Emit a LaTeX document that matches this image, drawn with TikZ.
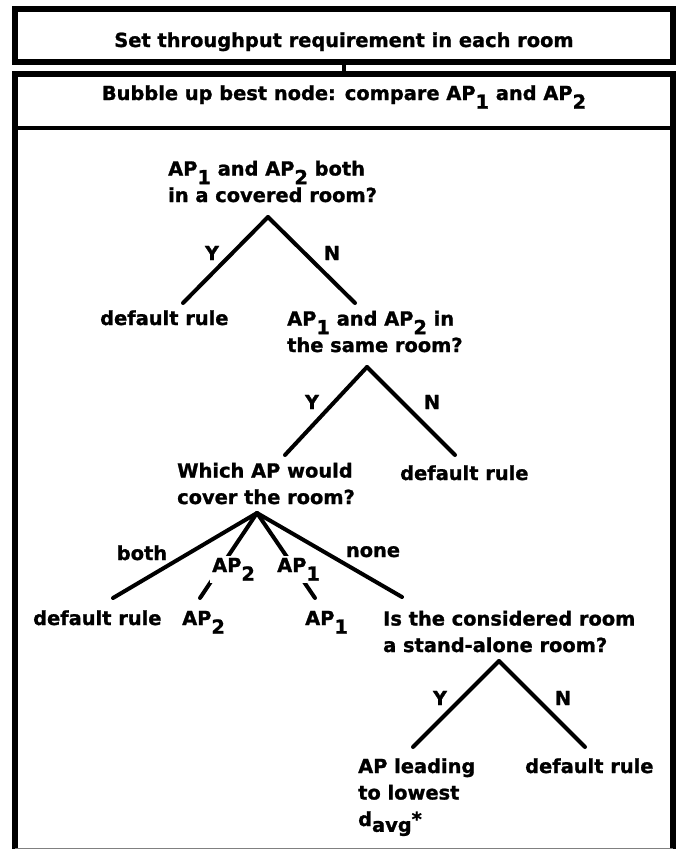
\documentclass[tikz,border=0pt]{standalone}
\usepackage{fontspec}
\setmainfont{DejaVu Sans}[BoldFeatures={FakeBold=1.2}]
\usetikzlibrary{positioning}

% index set low, at full size
\newcommand{\low}[1]{\raisebox{-0.45em}{#1}}

\begin{document}
\begin{tikzpicture}[
    x=1pt, y=-1pt,
    font=\fontsize{19.4}{26.5}\selectfont\bfseries,
    frame/.style={line width=6pt},
    rule/.style={line width=4.5pt},
    link/.style={line width=4pt},
    branch/.style={line width=4pt, line cap=round, line join=miter},
    heading/.style={inner sep=0pt, anchor=base},
    txt/.style={inner sep=0pt, anchor=base west, align=left},
    yn/.style={inner sep=0pt, anchor=base},
    via/.style={inner sep=2pt, anchor=base west, fill=white}
]
\useasboundingbox (0,0) rectangle (681,849);

% the two frames
\draw[frame] (15,9) rectangle (673,62);
\node[heading] (setreq) at (344,47) {Set throughput requirement in each room};
\draw[frame] (15,849) |- (673,74) -- (673,849);
\draw[line width=0.8pt, gray] (15,848.5) -- (673,848.5);
\draw[rule] (15,128) -- (673,128);
\node[heading] (bubble) at (344,100) {Bubble up best node: compare AP\low{1} and AP\low{2}};
\coordinate (box1-bot) at (344,62);
\coordinate (box2-top) at (344,74);
\draw[link] (box1-bot) -- (box2-top);

% first test (base = last line)
\node[txt] (q1) at (168,202) {AP\low{1} and AP\low{2} both\\in a covered room?};
\coordinate (q1-fork) at (268,217);
\coordinate (q1-y) at (183,303);
\coordinate (q1-n) at (355,303);
\draw[branch] (q1-fork) -- (q1-y);
\draw[branch] (q1-fork) -- (q1-n);
\node[yn] (q1-ylab) at (212,260) {Y};
\node[yn] (q1-nlab) at (332,260) {N};
\node[txt] (r1) at (100,325) {default rule};

% second test
\node[txt] (q2) at (287,352) {AP\low{1} and AP\low{2} in\\the same room?};
\coordinate (q2-fork) at (367,367);
\coordinate (q2-y) at (285,455);
\coordinate (q2-n) at (455,455);
\draw[branch] (q2-fork) -- (q2-y);
\draw[branch] (q2-fork) -- (q2-n);
\node[yn] (q2-ylab) at (312,409) {Y};
\node[yn] (q2-nlab) at (432,409) {N};
\node[txt] (r2) at (400,480) {default rule};

% third test, four ways
\node[txt] (q3) at (177,504) {Which AP would\\cover the room?};
\coordinate (q3-fork) at (257,513);
\coordinate (q3-both) at (113,598);
\coordinate (q3-ap2) at (200,598);
\coordinate (q3-ap1) at (315,598);
\coordinate (q3-none) at (402,597);
\draw[branch] (q3-fork) -- (q3-both);
\draw[branch] (q3-fork) -- (q3-ap2);
\draw[branch] (q3-fork) -- (q3-ap1);
\draw[branch] (q3-fork) -- (q3-none);
\node[yn] (q3-bothlab) at (142,560) {both};
\node[yn] (q3-nonelab) at (373,557) {none};
\node[via] (q3-ap2lab) at (210,572) {AP\low{2}};
\node[via] (q3-ap1lab) at (275,572) {AP\low{1}};
\node[txt] (r3) at (33,625) {default rule};
\node[txt] (r4) at (182,625) {AP\low{2}};
\node[txt] (r5) at (305,625) {AP\low{1}};

% last test
\node[txt] (q4) at (383,652) {Is the considered room\\a stand-alone room?};
\coordinate (q4-fork) at (499,661);
\coordinate (q4-y) at (413,747);
\coordinate (q4-n) at (585,747);
\draw[branch] (q4-fork) -- (q4-y);
\draw[branch] (q4-fork) -- (q4-n);
\node[yn] (q4-ylab) at (440,705) {Y};
\node[yn] (q4-nlab) at (563,705) {N};
\node[txt] (r6) at (358,826) {AP leading\\to lowest\\d\raisebox{-0.3em}{avg}*};
\node[txt] (r7) at (525,773) {default rule};
\end{tikzpicture}
\end{document}
